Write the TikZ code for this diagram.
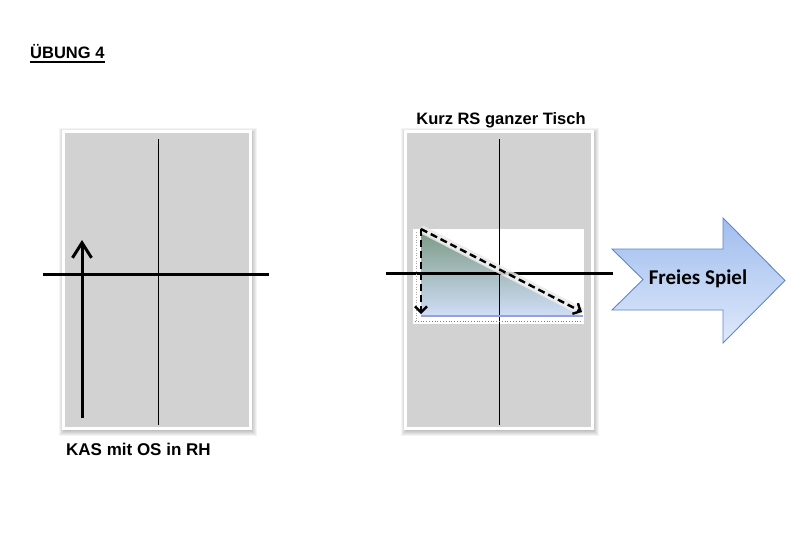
\documentclass[tikz,border=0pt]{standalone}
\usepackage{fontspec}
\setmainfont{Liberation Sans}
\newfontfamily\carlito{Carlito}
\usetikzlibrary{arrows.meta}
\pgfdeclarelayer{paper}
\pgfdeclarelayer{halo}
\pgfsetlayers{paper,halo,main}
\definecolor{tablegray}{RGB}{210,210,210}
\definecolor{arrowtop}{RGB}{160,190,238}
\definecolor{arrowbot}{RGB}{222,232,250}
\definecolor{arrowedge}{RGB}{95,135,200}
\definecolor{tritop}{RGB}{125,155,135}
\definecolor{trimid}{RGB}{186,204,222}
\definecolor{tribot}{RGB}{208,222,247}
\definecolor{triedge}{RGB}{150,160,225}
\tikzset{
  tablebox/.style={draw=white, line width=3pt, fill=tablegray, minimum width=187pt, minimum height=297pt, inner sep=0pt, outer sep=0pt},
  midline/.style={line width=1pt, black},
  netline/.style={line width=3pt, black},
  moveline/.style={line width=3pt, black, -{Straight Barb[length=15pt,width=19pt]}},
  dashmove/.style={line width=2.4pt, black, dash pattern=on 7pt off 4pt, -{Straight Barb[length=6pt,width=12pt]}},
  glow/.style={line width=8pt, white!92!black, opacity=0.85},
  titletext/.style={font=\fontsize{16.5}{19}\selectfont\bfseries, inner sep=0pt},
}
\newcommand{\tablehalo}[1]{%
  \begin{pgfonlayer}{halo}
  \foreach \i in {1,...,6}{
    \fill[black, opacity=0.045] ([shift={(-\i+1.5,-\i+2.5)}]#1.north west) rectangle ([shift={(\i+0.5,\i+1.5)}]#1.south east);
  }
  \end{pgfonlayer}}
\begin{document}
\begin{tikzpicture}[x=1pt,y=-1pt]
\begin{pgfonlayer}{paper}
\fill[white] (0,0) rectangle (800,550);
\end{pgfonlayer}
\useasboundingbox (0,0) rectangle (800,550);

% title
\node[titletext, anchor=base west] (title) at (30,58) {ÜBUNG 4};
\draw[line width=1.8pt] ([yshift=-3.8pt]title.base west) -- ([yshift=-3.8pt]title.base east);

% left table
\node[tablebox] (T1) at (157,280) {};
\tablehalo{T1}
\coordinate (T1top) at (158,139);
\coordinate (T1bot) at (158,425);
\draw[midline] (T1top) -- (T1bot);
\coordinate (N1a) at (43,274);
\coordinate (N1b) at (269,274);
\draw[netline] (N1a) -- (N1b);
\coordinate (A1s) at (82,418);
\coordinate (A1e) at (82,240);
\draw[moveline] (A1s) -- (A1e);
\node[titletext, font=\fontsize{17}{19}\selectfont\bfseries, anchor=base west] (L1) at (66,455) {KAS mit OS in RH};

% right table
\node[tablebox] (T2) at (498.5,280) {};
\tablehalo{T2}
\coordinate (T2top) at (499,139);
\coordinate (T2bot) at (499,425);
\node[titletext, anchor=base] (L2) at (501,124) {Kurz RS ganzer Tisch};
\node[fill=white, inner sep=0pt, minimum width=171pt, minimum height=95pt] (W) at (498.5,276.5) {};
\shade[top color=tritop, middle color=trimid, bottom color=tribot] (421,232) -- (583,316) -- (421,316) -- cycle;
\draw[midline] (T2top) -- (T2bot);
\coordinate (N2a) at (386,273);
\coordinate (N2b) at (613,273);
\draw[netline] (N2a) -- (N2b);
\draw[triedge, line width=1.5pt] (421,316) -- (583,316);
\draw[gray, dotted, line width=0.8pt] (415,321) -- (583,321);
\draw[gray!70, dotted, line width=0.6pt] (416,232) -- (416,321);
\coordinate (P0) at (421,229);
\coordinate (P1) at (421,314);
\coordinate (P2) at (582,312);
\draw[glow] (P0) -- (P2);
\draw[dashmove] (P0) -- (P1);
\draw[dashmove] (P0) -- (P2);

% big arrow
\draw[arrowedge, line width=0.9pt, top color=arrowtop, bottom color=arrowbot]
  (612,249) -- (723,249) -- (723,218) -- (785,280.5) -- (723,343) -- (723,310) -- (612,310) -- (643,279.5) -- cycle;
\node[font=\carlito\fontsize{21}{23}\selectfont\bfseries, inner sep=0pt, anchor=base] (FS) at (698,284) {Freies Spiel};
\end{tikzpicture}
\end{document}
